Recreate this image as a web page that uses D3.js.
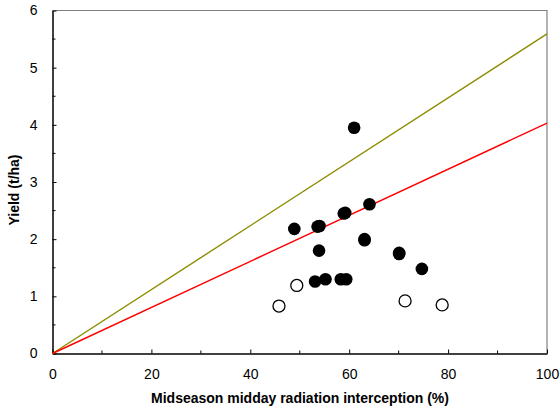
<!DOCTYPE html>
<html><head><meta charset="utf-8">
<script src="https://cdn.jsdelivr.net/npm/d3@7"></script>
<style>body{margin:0;background:#fff}svg{display:block}text{font-family:"Liberation Sans",Arial,sans-serif}</style>
</head><body>
<svg id="c" width="560" height="408"></svg>
<script>
// Data
const filledX = [48.9, 53.6, 54.0, 58.9, 59.2, 64.1, 61.0, 53.9, 63.1, 63.1, 70.1, 70.1, 74.7, 53.1, 55.2, 58.3, 59.4];
const filledY = [2.18, 2.22, 2.23, 2.45, 2.46, 2.61, 3.95, 1.80, 2.00, 1.98, 1.76, 1.74, 1.48, 1.26, 1.30, 1.30, 1.30];
const openX = [45.8, 49.4, 71.3, 78.8];
const openY = [0.83, 1.19, 0.92, 0.85];
const lineX = [0, 100];
const oliveY = [0, 5.59];
const redY = [0, 4.03];
const xTicks = [0, 20, 40, 60, 80, 100];
const yTicks = [0, 1, 2, 3, 4, 5, 6];
const xLabel = "Midseason midday radiation interception (%)";
const yLabel = "Yield (t/ha)";

const svg = d3.select("#c");
const L = 52.5, R = 547, T = 10.5, B = 353.5;
const x = d3.scaleLinear().domain([0, 100]).range([L, R]);
const y = d3.scaleLinear().domain([0, 6]).range([B, T]);

// frame top/right gray
svg.append("path").attr("d", `M${L},${T}H${R}V${B}`).attr("fill", "none").attr("stroke", "#808080").attr("stroke-width", 1.2);

// minor ticks
const xMinor = d3.range(10, 100, 20);
const yMinor = d3.range(0.5, 6, 1);
svg.append("g").selectAll("line").data(xMinor).join("line")
  .attr("x1", d => x(d)).attr("x2", d => x(d)).attr("y1", B).attr("y2", B - 3)
  .attr("stroke", "#000").attr("stroke-width", 1);
svg.append("g").selectAll("line").data(yMinor).join("line")
  .attr("y1", d => y(d)).attr("y2", d => y(d)).attr("x1", L).attr("x2", L + 3)
  .attr("stroke", "#000").attr("stroke-width", 1);

// axes
const xAxis = d3.axisBottom(x).tickValues(xTicks).tickFormat(d3.format("d")).tickSizeInner(-4).tickSizeOuter(0).tickPadding(16);
const gx = svg.append("g").attr("transform", `translate(0,${B})`).call(xAxis);
const yAxis = d3.axisLeft(y).tickValues(yTicks).tickFormat(d3.format("d")).tickSizeInner(-4).tickSizeOuter(0).tickPadding(15);
const gy = svg.append("g").attr("transform", `translate(${L},0)`).call(yAxis);
[gx, gy].forEach(g => {
  g.select(".domain").attr("stroke", "#000").attr("stroke-width", 1.5);
  g.selectAll(".tick line").attr("stroke", "#000").attr("stroke-width", 1);
  g.selectAll(".tick text").attr("font-size", 14).attr("fill", "#000")
    .attr("font-family", '"Liberation Sans",Arial,sans-serif');
});

// lines
const line = d3.line().x(d => x(d[0])).y(d => y(d[1]));
svg.append("path").datum(lineX.map((v, i) => [v, oliveY[i]])).attr("d", line)
  .attr("fill", "none").attr("stroke", "#8c8c00").attr("stroke-width", 1.4);
svg.append("path").datum(lineX.map((v, i) => [v, redY[i]])).attr("d", line)
  .attr("fill", "none").attr("stroke", "#ff0000").attr("stroke-width", 1.4);

// points
svg.append("g").selectAll("circle").data(filledX.map((v, i) => [v, filledY[i]])).join("circle")
  .attr("cx", d => x(d[0])).attr("cy", d => y(d[1])).attr("r", 6.3).attr("fill", "#000");
svg.append("g").selectAll("circle").data(openX.map((v, i) => [v, openY[i]])).join("circle")
  .attr("cx", d => x(d[0])).attr("cy", d => y(d[1])).attr("r", 6).attr("fill", "#fff")
  .attr("stroke", "#000").attr("stroke-width", 1.3);

// titles
svg.append("text").attr("x", 300).attr("y", 403).attr("text-anchor", "middle")
  .attr("font-size", 14).attr("font-weight", "bold").text(xLabel);
svg.append("text").attr("transform", "translate(19,190) rotate(-90)").attr("text-anchor", "middle")
  .attr("font-size", 14).attr("font-weight", "bold").text(yLabel);
</script>
</body></html>
